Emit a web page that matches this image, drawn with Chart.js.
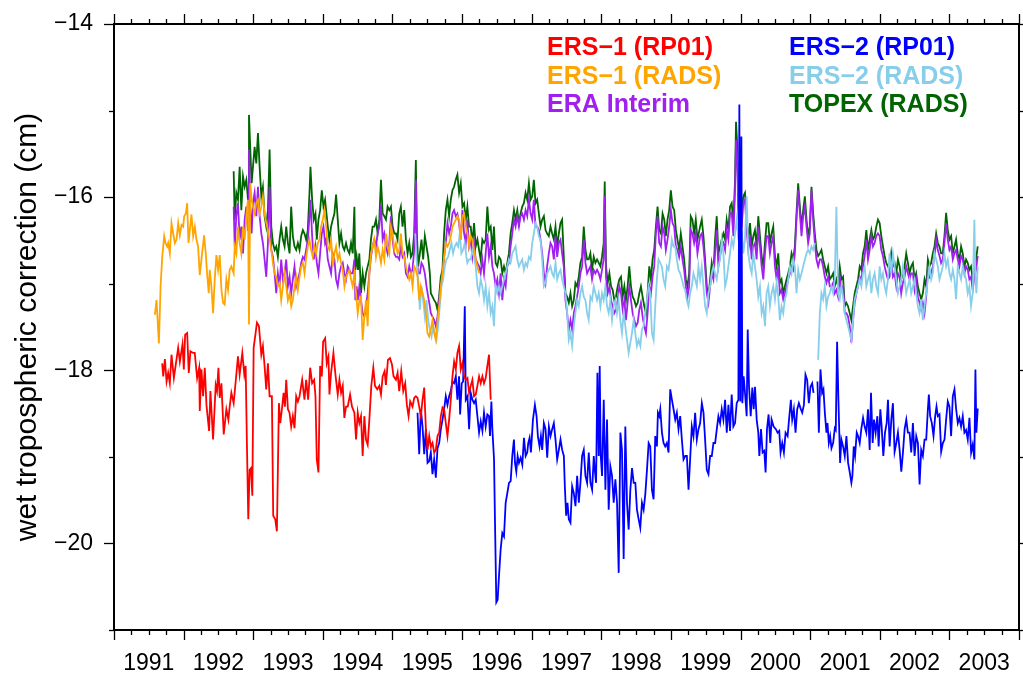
<!DOCTYPE html>
<html>
<head>
<meta charset="utf-8">
<script src="https://cdn.jsdelivr.net/npm/chart.js@4/dist/chart.umd.min.js"></script>
<style>
  html, body { margin: 0; padding: 0; background: #ffffff; }
  canvas { display: block; }
</style>
</head>
<body>
<canvas id="chart" width="1023" height="673"></canvas>
<script>
// Axis labelling
const yearLabels = [1991, 1992, 1993, 1994, 1995, 1996, 1997, 1998, 1999, 2000, 2001, 2002, 2003];
const yTickValues = [-20, -18, -16, -14];
const axisTitle = 'wet tropospheric correction (cm)';

// Series names (legend text) and colours
const seriesNames = ['ERS\u22121 (RP01)', 'ERS\u22122 (RP01)', 'ERS\u22121 (RADS)', 'ERS\u22122 (RADS)', 'ERA Interim', 'TOPEX (RADS)'];
const seriesColors = ['#ff0000', '#0000ff', '#ffa500', '#87ceeb', '#a020f0', '#006400'];

// [decimal year, cm]
const ers1Rp01 = [[1991.692,-17.92],[1991.707,-18.07],[1991.731,-17.87],[1991.755,-18.13],[1991.778,-18.03],[1991.802,-18.15],[1991.826,-17.82],[1991.860,-18.09],[1991.888,-17.93],[1991.922,-17.74],[1991.946,-17.90],[1991.984,-17.70],[1992.003,-17.99],[1992.022,-17.59],[1992.051,-17.57],[1992.074,-18.03],[1992.098,-17.78],[1992.137,-17.80],[1992.160,-17.80],[1992.194,-18.09],[1992.223,-17.97],[1992.232,-18.47],[1992.256,-17.99],[1992.280,-18.30],[1992.304,-17.97],[1992.328,-18.40],[1992.366,-18.70],[1992.385,-18.24],[1992.423,-18.80],[1992.461,-18.17],[1992.480,-18.24],[1992.500,-17.97],[1992.519,-18.32],[1992.543,-18.15],[1992.576,-18.74],[1992.614,-18.45],[1992.643,-18.57],[1992.662,-18.42],[1992.686,-18.26],[1992.719,-18.38],[1992.748,-18.13],[1992.781,-17.84],[1992.805,-18.05],[1992.843,-17.80],[1992.872,-18.05],[1992.891,-17.95],[1992.910,-18.88],[1992.929,-19.72],[1992.948,-19.15],[1992.968,-19.13],[1992.987,-19.45],[1993.006,-17.74],[1993.034,-17.57],[1993.053,-17.45],[1993.082,-17.49],[1993.116,-17.82],[1993.139,-17.72],[1993.163,-17.95],[1993.187,-18.22],[1993.211,-17.92],[1993.235,-18.30],[1993.268,-18.30],[1993.287,-19.68],[1993.316,-19.72],[1993.340,-19.86],[1993.369,-18.38],[1993.388,-18.61],[1993.412,-18.45],[1993.436,-18.26],[1993.455,-18.42],[1993.474,-18.11],[1993.498,-18.45],[1993.521,-18.49],[1993.545,-18.65],[1993.569,-18.53],[1993.593,-18.67],[1993.617,-18.30],[1993.641,-18.36],[1993.665,-18.30],[1993.703,-18.11],[1993.736,-18.34],[1993.760,-18.11],[1993.789,-18.34],[1993.818,-17.97],[1993.846,-18.15],[1993.875,-18.11],[1993.894,-18.30],[1993.913,-19.03],[1993.937,-19.18],[1993.961,-17.95],[1993.985,-18.07],[1994.004,-17.67],[1994.033,-17.63],[1994.056,-17.92],[1994.080,-17.84],[1994.095,-18.28],[1994.118,-18.03],[1994.152,-17.80],[1994.181,-18.05],[1994.214,-18.28],[1994.238,-18.11],[1994.262,-18.26],[1994.286,-18.18],[1994.309,-18.55],[1994.333,-18.42],[1994.357,-18.42],[1994.391,-18.28],[1994.419,-18.42],[1994.453,-18.49],[1994.477,-18.80],[1994.501,-18.49],[1994.524,-18.61],[1994.548,-18.53],[1994.572,-18.99],[1994.596,-18.53],[1994.620,-18.80],[1994.644,-18.86],[1994.668,-18.57],[1994.696,-18.18],[1994.725,-17.97],[1994.749,-18.18],[1994.782,-18.22],[1994.811,-18.18],[1994.835,-18.28],[1994.859,-18.07],[1994.887,-18.01],[1994.906,-18.17],[1994.935,-17.88],[1994.964,-17.86],[1994.992,-17.93],[1995.016,-18.07],[1995.050,-18.11],[1995.074,-18.03],[1995.097,-18.24],[1995.126,-18.01],[1995.155,-18.24],[1995.183,-18.15],[1995.207,-18.40],[1995.231,-18.53],[1995.255,-18.36],[1995.288,-18.42],[1995.312,-18.32],[1995.336,-18.30],[1995.360,-18.32],[1995.384,-18.42],[1995.408,-18.53],[1995.432,-18.34],[1995.456,-18.20],[1995.480,-18.68],[1995.504,-18.92],[1995.528,-18.76],[1995.551,-18.88],[1995.575,-18.84],[1995.599,-18.95],[1995.623,-18.92],[1995.647,-18.76],[1995.671,-18.72],[1995.695,-18.53],[1995.719,-18.43],[1995.742,-18.45],[1995.766,-18.61],[1995.790,-18.76],[1995.814,-18.57],[1995.838,-18.34],[1995.862,-18.07],[1995.886,-17.90],[1995.910,-17.99],[1995.933,-17.80],[1995.957,-17.72],[1995.981,-17.99],[1996.005,-17.92],[1996.029,-18.07],[1996.053,-18.11],[1996.077,-18.09],[1996.101,-18.26],[1996.124,-18.18],[1996.148,-18.11],[1996.172,-18.30],[1996.196,-18.28],[1996.220,-18.18],[1996.244,-18.07],[1996.268,-18.15],[1996.292,-18.07],[1996.315,-18.15],[1996.339,-18.09],[1996.363,-17.95],[1996.387,-17.82],[1996.411,-18.34]];

const ers2Rp01 = [[1995.360,-18.49],[1995.384,-18.97],[1995.408,-18.45],[1995.432,-18.65],[1995.456,-18.97],[1995.480,-18.68],[1995.504,-19.07],[1995.528,-19.05],[1995.551,-18.95],[1995.575,-19.20],[1995.599,-19.03],[1995.623,-19.24],[1995.647,-18.90],[1995.671,-18.84],[1995.695,-18.68],[1995.719,-18.57],[1995.742,-18.45],[1995.766,-18.30],[1995.790,-18.40],[1995.814,-18.30],[1995.838,-18.24],[1995.862,-18.13],[1995.886,-18.15],[1995.910,-18.07],[1995.933,-18.34],[1995.957,-18.07],[1995.972,-18.51],[1995.995,-18.15],[1996.015,-18.13],[1996.039,-17.26],[1996.053,-18.34],[1996.077,-18.30],[1996.101,-18.68],[1996.124,-18.26],[1996.148,-18.34],[1996.172,-18.38],[1996.196,-18.34],[1996.220,-18.53],[1996.244,-18.72],[1996.268,-18.59],[1996.292,-18.70],[1996.315,-18.49],[1996.339,-18.65],[1996.363,-18.51],[1996.387,-18.53],[1996.401,-18.76],[1996.421,-18.36],[1996.435,-18.68],[1996.459,-19.03],[1996.473,-19.76],[1996.492,-20.68],[1996.511,-20.65],[1996.530,-20.38],[1996.554,-20.07],[1996.578,-19.88],[1996.602,-19.92],[1996.626,-19.53],[1996.650,-19.42],[1996.674,-19.30],[1996.698,-19.28],[1996.721,-18.99],[1996.745,-18.80],[1996.760,-19.07],[1996.779,-19.17],[1996.798,-18.99],[1996.817,-19.07],[1996.841,-19.01],[1996.865,-19.09],[1996.889,-18.78],[1996.913,-18.99],[1996.936,-18.95],[1996.951,-18.84],[1996.970,-18.78],[1996.989,-18.95],[1997.018,-18.57],[1997.046,-18.40],[1997.070,-18.53],[1997.089,-18.76],[1997.113,-18.88],[1997.132,-18.76],[1997.151,-18.92],[1997.175,-18.61],[1997.199,-18.68],[1997.223,-19.01],[1997.247,-18.65],[1997.271,-18.76],[1997.294,-18.68],[1997.318,-18.61],[1997.342,-18.80],[1997.366,-19.03],[1997.390,-18.92],[1997.414,-18.80],[1997.438,-18.92],[1997.462,-18.99],[1997.476,-19.34],[1997.495,-19.68],[1997.514,-19.53],[1997.533,-19.72],[1997.557,-19.76],[1997.581,-19.34],[1997.605,-19.42],[1997.629,-19.57],[1997.653,-19.22],[1997.677,-19.53],[1997.700,-19.30],[1997.724,-18.99],[1997.748,-18.92],[1997.772,-19.22],[1997.796,-19.30],[1997.820,-18.95],[1997.844,-19.30],[1997.868,-19.38],[1997.892,-18.99],[1997.906,-19.15],[1997.925,-19.30],[1997.944,-18.03],[1997.963,-18.99],[1997.977,-17.95],[1997.992,-18.99],[1998.011,-19.22],[1998.035,-18.34],[1998.059,-19.38],[1998.082,-18.57],[1998.106,-19.61],[1998.130,-19.11],[1998.154,-19.22],[1998.178,-19.53],[1998.202,-19.26],[1998.226,-19.53],[1998.250,-20.34],[1998.274,-18.72],[1998.297,-18.92],[1998.321,-20.18],[1998.345,-18.65],[1998.369,-19.53],[1998.393,-19.84],[1998.417,-19.38],[1998.441,-19.13],[1998.465,-19.30],[1998.489,-19.30],[1998.512,-19.61],[1998.536,-19.72],[1998.560,-19.82],[1998.584,-19.53],[1998.608,-19.61],[1998.632,-19.43],[1998.656,-19.15],[1998.680,-18.84],[1998.703,-18.88],[1998.727,-19.38],[1998.751,-19.49],[1998.775,-18.76],[1998.799,-18.88],[1998.813,-18.49],[1998.832,-18.53],[1998.847,-18.45],[1998.871,-18.72],[1998.894,-18.84],[1998.918,-18.88],[1998.942,-18.84],[1998.966,-18.95],[1998.990,-18.22],[1999.014,-18.34],[1999.038,-18.45],[1999.062,-18.57],[1999.085,-18.49],[1999.109,-18.68],[1999.133,-18.53],[1999.157,-18.80],[1999.181,-19.03],[1999.205,-18.99],[1999.229,-18.99],[1999.253,-19.38],[1999.276,-19.03],[1999.300,-18.65],[1999.324,-18.76],[1999.348,-18.49],[1999.372,-18.80],[1999.396,-18.68],[1999.420,-18.61],[1999.444,-18.38],[1999.468,-18.49],[1999.491,-18.80],[1999.515,-19.15],[1999.539,-19.20],[1999.563,-18.99],[1999.587,-18.99],[1999.611,-18.84],[1999.635,-18.84],[1999.659,-18.68],[1999.682,-18.53],[1999.706,-18.61],[1999.730,-18.45],[1999.754,-18.57],[1999.778,-18.34],[1999.802,-18.72],[1999.826,-18.40],[1999.849,-18.70],[1999.873,-18.28],[1999.897,-18.65],[1999.921,-18.61],[1999.945,-18.38],[1999.969,-18.34],[1999.983,-14.93],[1999.997,-18.36],[2000.012,-15.30],[2000.026,-18.38],[2000.045,-18.07],[2000.064,-18.26],[2000.088,-18.53],[2000.103,-17.53],[2000.122,-18.19],[2000.146,-18.53],[2000.169,-18.20],[2000.189,-18.45],[2000.208,-18.19],[2000.232,-18.57],[2000.255,-18.72],[2000.270,-18.99],[2000.294,-18.68],[2000.317,-18.95],[2000.341,-18.93],[2000.360,-19.18],[2000.380,-18.68],[2000.403,-18.51],[2000.427,-18.84],[2000.446,-18.57],[2000.475,-18.65],[2000.508,-18.68],[2000.532,-18.72],[2000.556,-18.70],[2000.575,-18.95],[2000.599,-18.84],[2000.623,-18.95],[2000.647,-18.72],[2000.676,-18.76],[2000.699,-18.55],[2000.723,-18.34],[2000.742,-18.57],[2000.766,-18.45],[2000.790,-18.72],[2000.814,-18.45],[2000.838,-18.38],[2000.862,-18.44],[2000.886,-18.49],[2000.910,-18.40],[2000.933,-18.05],[2000.957,-18.11],[2000.981,-18.38],[2001.005,-18.19],[2001.029,-18.15],[2001.048,-18.26],[2001.075,null],[2001.105,-18.13],[2001.125,-18.72],[2001.148,-17.99],[2001.172,-18.26],[2001.191,-18.22],[2001.211,-18.49],[2001.234,-18.72],[2001.249,-18.61],[2001.268,-18.84],[2001.287,-18.76],[2001.306,-18.90],[2001.330,-18.84],[2001.354,-18.67],[2001.368,-18.69],[2001.387,-17.67],[2001.406,-18.34],[2001.430,-19.07],[2001.449,-18.80],[2001.473,-18.88],[2001.497,-18.99],[2001.521,-18.76],[2001.545,-19.07],[2001.569,-19.18],[2001.592,-19.30],[2001.607,-19.22],[2001.626,-18.88],[2001.645,-18.99],[2001.669,-18.72],[2001.688,-18.76],[2001.712,-18.84],[2001.736,-18.67],[2001.760,-18.55],[2001.783,-18.65],[2001.807,-18.72],[2001.831,-18.45],[2001.855,-18.92],[2001.874,-18.26],[2001.898,-18.84],[2001.917,-18.57],[2001.941,-18.72],[2001.965,-18.53],[2001.984,-18.88],[2002.008,-18.45],[2002.027,-18.65],[2002.051,-18.99],[2002.075,-18.72],[2002.099,-18.61],[2002.118,-18.34],[2002.142,-18.88],[2002.166,-18.57],[2002.189,-18.38],[2002.213,-18.94],[2002.237,-18.84],[2002.261,-18.72],[2002.285,-18.92],[2002.309,-19.17],[2002.333,-18.95],[2002.357,-18.68],[2002.381,-18.57],[2002.404,-18.72],[2002.428,-18.72],[2002.452,-18.95],[2002.476,-18.61],[2002.500,-18.99],[2002.524,-18.76],[2002.548,-18.84],[2002.572,-19.32],[2002.595,-18.92],[2002.619,-18.99],[2002.643,-18.80],[2002.667,-18.80],[2002.691,-18.45],[2002.705,-18.28],[2002.724,-18.53],[2002.748,-18.61],[2002.772,-18.76],[2002.796,-18.53],[2002.815,-18.42],[2002.834,-18.53],[2002.858,-18.51],[2002.882,-18.94],[2002.906,-18.84],[2002.930,-18.80],[2002.953,-18.57],[2002.977,-18.36],[2003.001,-18.42],[2003.025,-18.76],[2003.049,-18.30],[2003.073,-18.22],[2003.097,-18.45],[2003.121,-18.61],[2003.144,-18.55],[2003.168,-18.65],[2003.192,-18.53],[2003.216,-18.72],[2003.240,-18.69],[2003.264,-18.80],[2003.288,-18.55],[2003.312,-18.95],[2003.335,-18.86],[2003.359,-19.03],[2003.374,-17.99],[2003.388,-18.72],[2003.407,-18.44]];

const ers1Rads = [[1991.587,-17.36],[1991.611,-17.19],[1991.645,-17.69],[1991.669,-17.03],[1991.693,-16.69],[1991.721,-16.45],[1991.740,-16.53],[1991.764,-16.57],[1991.778,-16.53],[1991.802,-16.65],[1991.826,-16.30],[1991.850,-16.42],[1991.874,-16.53],[1991.898,-16.49],[1991.922,-16.30],[1991.946,-16.44],[1991.970,-16.32],[1991.993,-16.34],[1992.008,-16.22],[1992.032,-16.19],[1992.051,-16.07],[1992.070,-16.53],[1992.089,-16.38],[1992.113,-16.20],[1992.137,-16.45],[1992.161,-16.34],[1992.184,-16.49],[1992.208,-16.57],[1992.232,-16.90],[1992.294,-16.44],[1992.318,-16.65],[1992.337,-16.88],[1992.361,-17.11],[1992.375,-16.84],[1992.399,-17.03],[1992.423,-17.34],[1992.447,-16.95],[1992.471,-16.67],[1992.495,-16.84],[1992.519,-16.67],[1992.543,-17.07],[1992.567,-17.22],[1992.590,-17.24],[1992.614,-16.95],[1992.638,-17.07],[1992.662,-16.84],[1992.686,-16.80],[1992.719,-16.88],[1992.734,-16.57],[1992.757,-16.65],[1992.781,-16.34],[1992.805,-16.53],[1992.829,-16.65],[1992.853,-16.34],[1992.877,-16.49],[1992.901,-16.22],[1992.924,-16.03],[1992.939,-17.47],[1992.958,-15.84],[1992.977,-16.03],[1992.996,-16.11],[1993.020,-16.19],[1993.044,-16.07],[1993.068,-16.03],[1993.092,-16.19],[1993.116,-16.11],[1993.139,-15.99],[1993.163,-16.19],[1993.187,-16.30],[1993.211,-16.38],[1993.235,-16.49],[1993.259,-16.61],[1993.283,-16.76],[1993.307,-16.88],[1993.331,-16.92],[1993.354,-17.03],[1993.378,-16.99],[1993.402,-17.19],[1993.426,-17.03],[1993.450,-16.88],[1993.474,-17.03],[1993.498,-17.19],[1993.522,-17.11],[1993.546,-17.26],[1993.569,-17.19],[1993.593,-17.03],[1993.617,-16.92],[1993.641,-17.07],[1993.665,-16.92],[1993.689,-16.80],[1993.713,-16.76],[1993.737,-16.88],[1993.761,-16.69],[1993.784,-16.57],[1993.808,-16.49],[1993.832,-16.61],[1993.856,-16.69],[1993.880,-16.57],[1993.904,-16.65],[1993.928,-16.53],[1993.952,-16.49],[1993.975,-16.34],[1993.999,-16.26],[1994.023,-16.15],[1994.047,-16.34],[1994.071,-16.57],[1994.095,-16.61],[1994.119,-16.49],[1994.143,-16.80],[1994.166,-16.65],[1994.190,-16.57],[1994.214,-16.72],[1994.238,-16.65],[1994.262,-16.76],[1994.286,-16.84],[1994.310,-17.03],[1994.334,-16.92],[1994.357,-16.88],[1994.381,-16.84],[1994.405,-16.95],[1994.429,-17.03],[1994.453,-16.88],[1994.477,-17.11],[1994.501,-17.34],[1994.525,-17.19],[1994.548,-17.15],[1994.572,-17.65],[1994.596,-17.38],[1994.620,-17.19],[1994.644,-17.49],[1994.668,-16.88],[1994.692,-16.65],[1994.716,-16.57],[1994.740,-16.49],[1994.763,-16.69],[1994.787,-16.57],[1994.811,-16.65],[1994.835,-16.76],[1994.859,-16.61],[1994.883,-16.72],[1994.907,-16.42],[1994.931,-16.57],[1994.954,-16.65],[1994.978,-16.34],[1995.002,-16.42],[1995.026,-16.61],[1995.050,-16.53],[1995.074,-16.65],[1995.098,-16.61],[1995.121,-16.42],[1995.145,-16.65],[1995.169,-16.69],[1995.193,-16.80],[1995.217,-16.88],[1995.241,-16.95],[1995.265,-16.88],[1995.289,-17.03],[1995.312,-16.80],[1995.336,-16.84],[1995.360,-16.92],[1995.384,-17.19],[1995.408,-17.03],[1995.432,-17.11],[1995.456,-17.19],[1995.480,-17.34],[1995.503,-17.57],[1995.527,-17.61],[1995.551,-17.53],[1995.575,-17.42],[1995.599,-17.57],[1995.623,-17.65],[1995.647,-17.42],[1995.671,-17.26],[1995.695,-17.03],[1995.718,-16.88],[1995.742,-16.69],[1995.766,-16.53],[1995.790,-16.57],[1995.814,-16.53],[1995.838,-16.45],[1995.862,-16.34],[1995.886,-16.30],[1995.910,-16.26],[1995.933,-16.22],[1995.957,-16.26],[1995.981,-16.49],[1996.005,-16.22],[1996.029,-16.19],[1996.053,-16.34],[1996.077,-16.42],[1996.100,-16.57],[1996.124,-16.45],[1996.148,-16.49],[1996.172,-16.61],[1996.196,-16.72],[1996.220,-16.80],[1996.244,-16.88]];

const ers2Rads = [[1995.327,-16.42],[1995.346,-16.72],[1995.370,-16.95],[1995.393,-17.30],[1995.417,-17.03],[1995.441,-17.19],[1995.465,-17.38],[1995.489,-17.19],[1995.513,-17.42],[1995.537,-17.53],[1995.561,-17.61],[1995.584,-17.49],[1995.608,-17.57],[1995.632,-17.65],[1995.656,-17.49],[1995.680,-17.26],[1995.704,-17.03],[1995.728,-16.95],[1995.752,-16.80],[1995.775,-16.72],[1995.799,-16.69],[1995.823,-16.61],[1995.847,-16.53],[1995.871,-16.65],[1995.895,-16.57],[1995.919,-16.53],[1995.943,-16.57],[1995.966,-16.42],[1995.990,-16.65],[1996.014,-16.61],[1996.038,-16.53],[1996.062,-16.69],[1996.076,-16.76],[1996.100,-16.72],[1996.124,-16.72],[1996.148,-16.61],[1996.172,-16.69],[1996.196,-16.80],[1996.220,-17.03],[1996.244,-17.11],[1996.267,-16.95],[1996.291,-17.03],[1996.315,-17.19],[1996.339,-17.03],[1996.363,-17.26],[1996.387,-17.11],[1996.411,-17.34],[1996.435,-17.26],[1996.458,-17.49],[1996.482,-17.03],[1996.506,-17.11],[1996.530,-17.03],[1996.554,-17.11],[1996.578,-17.03],[1996.602,-16.95],[1996.626,-16.88],[1996.649,-16.80],[1996.673,-16.72],[1996.697,-16.76],[1996.721,-16.65],[1996.745,-16.61],[1996.769,-16.57],[1996.793,-16.72],[1996.817,-16.80],[1996.840,-16.76],[1996.864,-16.72],[1996.888,-16.84],[1996.912,-16.76],[1996.936,-16.80],[1996.960,-16.69],[1996.984,-16.72],[1997.008,-16.53],[1997.031,-16.42],[1997.055,-16.30],[1997.079,-16.34],[1997.103,-16.45],[1997.127,-16.49],[1997.151,-16.72],[1997.175,-17.03],[1997.199,-16.99],[1997.222,-16.88],[1997.246,-16.84],[1997.270,-16.80],[1997.294,-16.88],[1997.318,-16.92],[1997.342,-16.76],[1997.366,-16.95],[1997.390,-16.88],[1997.414,-16.84],[1997.437,-16.95],[1997.461,-17.03],[1997.485,-17.11],[1997.509,-17.34],[1997.533,-17.65],[1997.557,-17.57],[1997.581,-17.72],[1997.605,-17.49],[1997.628,-17.34],[1997.652,-17.19],[1997.676,-17.26],[1997.700,-17.11],[1997.724,-17.03],[1997.748,-17.15],[1997.772,-17.19],[1997.796,-17.34],[1997.819,-17.42],[1997.843,-17.15],[1997.867,-17.19],[1997.891,-17.03],[1997.915,-17.11],[1997.939,-17.19],[1997.963,-17.11],[1997.987,-17.26],[1998.010,-17.11],[1998.034,-17.19],[1998.058,-17.03],[1998.082,-17.26],[1998.106,-17.34],[1998.130,-17.19],[1998.154,-17.42],[1998.178,-17.26],[1998.201,-17.19],[1998.225,-17.34],[1998.249,-17.19],[1998.273,-17.42],[1998.297,-17.57],[1998.321,-17.34],[1998.345,-17.49],[1998.369,-17.65],[1998.393,-17.80],[1998.416,-17.69],[1998.440,-17.57],[1998.464,-17.42],[1998.488,-17.57],[1998.512,-17.72],[1998.536,-17.65],[1998.560,-17.72],[1998.584,-17.53],[1998.607,-17.49],[1998.631,-17.34],[1998.655,-17.19],[1998.679,-17.03],[1998.703,-17.11],[1998.727,-17.57],[1998.751,-17.65],[1998.775,-17.26],[1998.798,-16.95],[1998.822,-16.72],[1998.846,-16.76],[1998.870,-16.80],[1998.894,-16.95],[1998.918,-17.03],[1998.942,-16.80],[1998.966,-16.84],[1998.989,-16.69],[1999.013,-16.49],[1999.037,-16.57],[1999.061,-16.57],[1999.085,-16.72],[1999.109,-16.84],[1999.133,-16.88],[1999.157,-16.95],[1999.181,-17.03],[1999.204,-17.07],[1999.228,-17.19],[1999.252,-17.26],[1999.276,-17.11],[1999.300,-17.03],[1999.324,-16.88],[1999.348,-16.95],[1999.372,-17.03],[1999.395,-16.80],[1999.419,-16.95],[1999.443,-16.80],[1999.467,-17.03],[1999.491,-17.26],[1999.515,-17.34],[1999.539,-17.11],[1999.563,-17.03],[1999.586,-16.88],[1999.610,-16.80],[1999.634,-16.88],[1999.658,-16.95],[1999.682,-16.80],[1999.706,-16.72],[1999.730,-16.49],[1999.754,-16.65],[1999.778,-17.03],[1999.801,-16.95],[1999.825,-16.80],[1999.849,-16.65],[1999.873,-16.49],[1999.897,-16.57],[1999.921,-16.42],[1999.945,-16.26],[1999.969,-16.49],[1999.992,-16.53],[2000.016,-16.38],[2000.040,-16.65],[2000.064,-16.49],[2000.088,-15.99],[2000.112,-16.65],[2000.136,-16.80],[2000.160,-16.88],[2000.183,-16.65],[2000.207,-16.80],[2000.231,-16.95],[2000.255,-17.15],[2000.279,-17.03],[2000.303,-17.34],[2000.327,-17.26],[2000.351,-17.49],[2000.374,-17.11],[2000.398,-17.03],[2000.422,-17.26],[2000.446,-17.11],[2000.470,-17.03],[2000.494,-17.18],[2000.518,-16.99],[2000.542,-17.15],[2000.565,-17.42],[2000.589,-17.26],[2000.613,-17.34],[2000.637,-17.18],[2000.661,-17.11],[2000.685,-16.95],[2000.709,-16.80],[2000.733,-16.88],[2000.757,-16.72],[2000.780,-16.80],[2000.804,-17.11],[2000.828,-16.84],[2000.852,-16.95],[2000.876,-16.88],[2000.900,-16.80],[2000.924,-16.72],[2000.948,-16.65],[2000.971,-16.61],[2000.995,-16.65],[2001.019,-16.57],[2001.043,-16.61],[2001.067,-16.53],[2001.090,null],[2001.115,-17.88],[2001.139,-17.34],[2001.162,-17.11],[2001.186,-17.18],[2001.210,-17.03],[2001.234,-17.26],[2001.258,-17.15],[2001.282,-17.11],[2001.306,-17.03],[2001.330,-17.11],[2001.353,-16.95],[2001.377,-16.11],[2001.401,-17.11],[2001.425,-17.18],[2001.449,-17.03],[2001.473,-17.15],[2001.497,-17.34],[2001.520,-17.42],[2001.544,-17.49],[2001.568,-17.57],[2001.592,-17.65],[2001.616,-17.42],[2001.640,-17.18],[2001.664,-17.11],[2001.688,-17.03],[2001.712,-16.95],[2001.735,-17.03],[2001.759,-16.88],[2001.783,-16.80],[2001.807,-17.03],[2001.831,-16.95],[2001.855,-16.88],[2001.879,-17.11],[2001.902,-16.95],[2001.926,-16.88],[2001.950,-17.03],[2001.974,-17.11],[2001.998,-16.80],[2002.022,-16.95],[2002.046,-16.88],[2002.070,-17.03],[2002.093,-17.11],[2002.117,-16.95],[2002.141,-16.65],[2002.165,-16.88],[2002.189,-16.65],[2002.213,-16.80],[2002.237,-16.95],[2002.261,-17.11],[2002.285,-17.03],[2002.308,-16.95],[2002.332,-16.80],[2002.356,-16.95],[2002.380,-17.11],[2002.404,-17.03],[2002.428,-16.95],[2002.452,-17.11],[2002.476,-17.03],[2002.500,-16.95],[2002.523,-17.11],[2002.547,-17.26],[2002.571,-17.34],[2002.595,-17.18],[2002.619,-17.42],[2002.643,-17.26],[2002.667,-17.11],[2002.691,-16.95],[2002.714,-16.80],[2002.738,-16.95],[2002.762,-16.88],[2002.786,-16.65],[2002.810,-16.72],[2002.834,-16.80],[2002.858,-16.95],[2002.881,-16.88],[2002.905,-16.80],[2002.929,-16.65],[2002.953,-16.80],[2002.977,-16.72],[2003.001,-16.88],[2003.025,-16.95],[2003.049,-16.84],[2003.073,-16.95],[2003.096,-17.18],[2003.120,-16.80],[2003.144,-16.88],[2003.168,-16.95],[2003.192,-16.80],[2003.216,-16.88],[2003.240,-16.95],[2003.264,-17.11],[2003.287,-17.03],[2003.311,-17.26],[2003.335,-17.11],[2003.359,-16.26],[2003.373,-16.95],[2003.388,-17.11],[2003.407,-16.80]];

const eraInterim = [[1992.719,-16.11],[1992.734,-16.57],[1992.757,-16.22],[1992.781,-16.07],[1992.805,-16.49],[1992.829,-16.34],[1992.853,-16.65],[1992.877,-16.26],[1992.901,-16.11],[1992.925,-16.38],[1992.939,-15.45],[1992.958,-16.15],[1992.977,-16.42],[1992.996,-16.07],[1993.020,-15.95],[1993.044,-16.22],[1993.068,-15.88],[1993.092,-16.22],[1993.116,-16.42],[1993.139,-16.53],[1993.163,-16.72],[1993.187,-16.92],[1993.211,-16.53],[1993.235,-15.88],[1993.259,-16.61],[1993.283,-16.69],[1993.307,-16.88],[1993.331,-17.11],[1993.354,-16.88],[1993.378,-17.03],[1993.402,-16.72],[1993.426,-16.95],[1993.450,-16.88],[1993.474,-16.72],[1993.498,-17.03],[1993.522,-16.92],[1993.545,-17.11],[1993.569,-16.95],[1993.593,-16.80],[1993.617,-17.03],[1993.641,-16.95],[1993.665,-16.88],[1993.689,-16.76],[1993.713,-16.69],[1993.736,-16.72],[1993.760,-16.61],[1993.784,-16.49],[1993.808,-16.22],[1993.822,-16.03],[1993.846,-16.45],[1993.870,-16.72],[1993.894,-16.57],[1993.913,-16.76],[1993.937,-16.88],[1993.961,-16.65],[1993.985,-16.42],[1994.009,-16.34],[1994.032,-16.53],[1994.047,-16.49],[1994.071,-16.72],[1994.094,-16.80],[1994.118,-16.88],[1994.142,-16.65],[1994.166,-16.72],[1994.190,-16.95],[1994.214,-17.03],[1994.238,-16.88],[1994.262,-16.80],[1994.286,-16.76],[1994.309,-16.88],[1994.333,-16.95],[1994.357,-16.80],[1994.381,-16.84],[1994.405,-16.88],[1994.429,-16.88],[1994.453,-16.72],[1994.467,-17.19],[1994.486,-17.03],[1994.505,-17.19],[1994.524,-17.03],[1994.548,-17.19],[1994.572,-17.34],[1994.596,-17.38],[1994.620,-17.26],[1994.644,-17.11],[1994.668,-16.88],[1994.691,-16.69],[1994.715,-16.57],[1994.739,-16.49],[1994.763,-16.57],[1994.787,-16.42],[1994.811,-16.34],[1994.835,-16.09],[1994.859,-16.49],[1994.882,-16.42],[1994.906,-16.57],[1994.930,-16.65],[1994.954,-16.53],[1994.978,-16.22],[1995.002,-16.49],[1995.026,-16.65],[1995.050,-16.69],[1995.073,-16.69],[1995.097,-16.72],[1995.121,-16.57],[1995.145,-16.69],[1995.169,-16.65],[1995.193,-16.88],[1995.217,-16.92],[1995.241,-16.80],[1995.265,-16.88],[1995.288,-16.84],[1995.312,-16.61],[1995.336,-15.80],[1995.351,-16.72],[1995.370,-16.88],[1995.394,-16.88],[1995.417,-16.76],[1995.441,-16.80],[1995.465,-16.88],[1995.489,-17.03],[1995.513,-17.15],[1995.537,-17.26],[1995.551,-17.34],[1995.575,-17.38],[1995.599,-17.42],[1995.623,-17.49],[1995.647,-17.38],[1995.670,-17.19],[1995.694,-17.03],[1995.718,-16.92],[1995.742,-16.69],[1995.766,-16.53],[1995.790,-16.30],[1995.814,-16.42],[1995.838,-16.34],[1995.862,-16.19],[1995.885,-16.15],[1995.909,-16.22],[1995.933,-16.19],[1995.957,-16.30],[1995.981,-16.49],[1996.005,-16.15],[1996.029,-16.42],[1996.053,-16.53],[1996.076,-16.26],[1996.100,-16.57],[1996.124,-16.49],[1996.148,-16.69],[1996.172,-16.53],[1996.196,-16.72],[1996.220,-16.76],[1996.244,-16.80],[1996.267,-16.88],[1996.291,-16.72],[1996.315,-16.88],[1996.339,-16.65],[1996.363,-16.42],[1996.387,-16.69],[1996.411,-16.57],[1996.435,-16.80],[1996.458,-16.88],[1996.482,-17.03],[1996.506,-16.95],[1996.530,-17.11],[1996.554,-16.88],[1996.578,-17.19],[1996.602,-16.95],[1996.626,-17.03],[1996.649,-16.80],[1996.673,-16.76],[1996.697,-16.57],[1996.721,-16.42],[1996.745,-16.26],[1996.769,-16.34],[1996.793,-16.22],[1996.817,-16.34],[1996.840,-16.22],[1996.864,-16.19],[1996.888,-16.26],[1996.912,-16.15],[1996.936,-16.22],[1996.960,-16.03],[1996.984,-16.19],[1997.008,-16.26],[1997.031,-16.03],[1997.055,-16.34],[1997.079,-16.34],[1997.103,-16.38],[1997.127,-16.49],[1997.151,-16.65],[1997.175,-16.88],[1997.199,-16.99],[1997.222,-16.80],[1997.246,-16.65],[1997.270,-16.53],[1997.294,-16.57],[1997.318,-16.72],[1997.342,-16.45],[1997.366,-16.69],[1997.390,-16.53],[1997.414,-16.49],[1997.437,-16.65],[1997.461,-16.80],[1997.485,-17.19],[1997.509,-17.34],[1997.533,-17.53],[1997.557,-17.42],[1997.581,-17.53],[1997.605,-17.34],[1997.628,-17.26],[1997.652,-17.15],[1997.676,-17.03],[1997.700,-16.88],[1997.724,-16.80],[1997.748,-16.49],[1997.772,-16.76],[1997.796,-16.88],[1997.819,-16.84],[1997.843,-16.80],[1997.867,-16.95],[1997.891,-16.84],[1997.915,-16.88],[1997.939,-16.84],[1997.963,-16.88],[1997.987,-16.95],[1998.010,-16.84],[1998.034,-16.72],[1998.049,-15.99],[1998.068,-16.95],[1998.092,-17.11],[1998.116,-17.03],[1998.140,-17.19],[1998.163,-17.26],[1998.187,-17.34],[1998.211,-17.30],[1998.235,-17.19],[1998.259,-17.03],[1998.283,-17.11],[1998.307,-17.30],[1998.331,-17.19],[1998.354,-17.42],[1998.378,-17.22],[1998.402,-17.03],[1998.426,-17.19],[1998.450,-17.34],[1998.474,-17.42],[1998.498,-17.49],[1998.522,-17.45],[1998.546,-17.30],[1998.569,-17.22],[1998.593,-17.38],[1998.617,-17.49],[1998.641,-17.57],[1998.665,-17.34],[1998.689,-17.03],[1998.713,-17.11],[1998.736,-16.92],[1998.760,-16.80],[1998.784,-16.42],[1998.808,-16.22],[1998.832,-16.53],[1998.856,-16.57],[1998.880,-16.34],[1998.904,-16.42],[1998.927,-16.61],[1998.951,-16.49],[1998.975,-16.34],[1998.999,-16.15],[1999.023,-16.30],[1999.047,-16.34],[1999.071,-16.57],[1999.094,-16.61],[1999.118,-16.69],[1999.142,-16.57],[1999.166,-16.72],[1999.190,-16.84],[1999.214,-17.03],[1999.238,-17.15],[1999.262,-17.03],[1999.285,-16.38],[1999.309,-16.42],[1999.333,-16.53],[1999.357,-16.42],[1999.381,-16.65],[1999.419,-16.45],[1999.443,-16.42],[1999.467,-16.57],[1999.491,-16.80],[1999.515,-17.11],[1999.539,-17.22],[1999.563,-17.03],[1999.586,-16.88],[1999.610,-16.95],[1999.634,-16.65],[1999.658,-16.38],[1999.682,-16.80],[1999.706,-16.68],[1999.730,-16.57],[1999.754,-16.53],[1999.778,-16.61],[1999.801,-16.38],[1999.825,-16.49],[1999.849,-16.18],[1999.873,-16.18],[1999.897,-16.45],[1999.921,-15.92],[1999.935,-15.34],[1999.954,-15.61],[1999.969,-16.26],[1999.992,-16.42],[2000.016,-16.34],[2000.040,-16.07],[2000.064,-16.03],[2000.088,-16.38],[2000.112,-16.61],[2000.136,-16.45],[2000.160,-16.72],[2000.183,-16.57],[2000.207,-16.53],[2000.231,-16.72],[2000.255,-16.34],[2000.279,-16.57],[2000.303,-16.80],[2000.327,-16.95],[2000.351,-16.65],[2000.374,-16.45],[2000.398,-16.45],[2000.422,-16.65],[2000.446,-16.53],[2000.470,-16.45],[2000.494,-16.80],[2000.518,-16.95],[2000.542,-16.80],[2000.565,-17.11],[2000.589,-17.07],[2000.613,-17.18],[2000.637,-17.11],[2000.661,-17.03],[2000.685,-16.95],[2000.709,-16.88],[2000.733,-16.80],[2000.757,-16.84],[2000.780,-16.65],[2000.804,-16.26],[2000.828,-15.92],[2000.852,-16.18],[2000.876,-16.45],[2000.900,-16.22],[2000.924,-16.11],[2000.948,-16.34],[2000.971,-16.53],[2000.995,-16.42],[2001.019,-15.92],[2001.043,-16.26],[2001.067,-16.53],[2001.091,-16.72],[2001.115,-16.80],[2001.139,-16.72],[2001.162,-16.72],[2001.186,-16.80],[2001.210,-16.92],[2001.234,-16.99],[2001.258,-16.92],[2001.282,-17.03],[2001.306,-17.03],[2001.330,-16.99],[2001.353,-17.11],[2001.377,-17.07],[2001.401,-17.15],[2001.425,-16.92],[2001.449,-17.07],[2001.473,-17.03],[2001.497,-17.34],[2001.520,-17.34],[2001.544,-17.38],[2001.568,-17.49],[2001.592,-17.68],[2001.616,-17.42],[2001.640,-17.22],[2001.664,-17.11],[2001.688,-17.03],[2001.712,-16.92],[2001.735,-16.95],[2001.759,-16.80],[2001.783,-16.68],[2001.807,-16.49],[2001.831,-16.72],[2001.855,-16.61],[2001.879,-16.45],[2001.902,-16.57],[2001.926,-16.53],[2001.950,-16.45],[2001.974,-16.42],[2001.998,-16.45],[2002.022,-16.61],[2002.046,-16.68],[2002.070,-16.80],[2002.093,-16.88],[2002.117,-16.95],[2002.141,-16.92],[2002.165,-16.72],[2002.189,-16.92],[2002.213,-16.88],[2002.237,-17.03],[2002.261,-16.88],[2002.285,-16.92],[2002.308,-17.11],[2002.332,-16.99],[2002.356,-16.92],[2002.380,-16.80],[2002.404,-16.88],[2002.428,-16.95],[2002.452,-16.88],[2002.476,-16.88],[2002.500,-17.07],[2002.523,-16.95],[2002.547,-17.15],[2002.571,-17.22],[2002.595,-17.30],[2002.619,-17.22],[2002.643,-17.34],[2002.667,-17.15],[2002.691,-16.84],[2002.714,-16.92],[2002.738,-16.88],[2002.762,-16.80],[2002.786,-16.68],[2002.810,-16.49],[2002.834,-16.61],[2002.858,-16.68],[2002.881,-16.76],[2002.905,-16.72],[2002.929,-16.53],[2002.953,-16.30],[2002.977,-16.49],[2003.001,-16.61],[2003.025,-16.57],[2003.049,-16.72],[2003.073,-16.65],[2003.096,-16.61],[2003.120,-16.72],[2003.144,-16.80],[2003.168,-16.68],[2003.192,-16.72],[2003.216,-16.88],[2003.240,-16.80],[2003.264,-16.84],[2003.287,-16.95],[2003.311,-16.92],[2003.335,-17.07],[2003.359,-16.92],[2003.383,-16.84],[2003.407,-16.68]];

const topexRads = [[1992.719,-15.70],[1992.734,-16.26],[1992.757,-15.95],[1992.781,-16.03],[1992.805,-15.65],[1992.829,-16.15],[1992.853,-15.76],[1992.877,-15.88],[1992.901,-15.80],[1992.925,-16.03],[1992.939,-15.05],[1992.958,-15.45],[1992.977,-15.84],[1992.996,-15.65],[1993.020,-15.42],[1993.044,-15.61],[1993.068,-15.26],[1993.092,-15.65],[1993.116,-15.99],[1993.139,-15.88],[1993.163,-16.22],[1993.187,-16.34],[1993.211,-16.15],[1993.235,-15.45],[1993.259,-16.34],[1993.283,-16.53],[1993.307,-16.61],[1993.331,-16.57],[1993.354,-16.69],[1993.378,-16.49],[1993.402,-16.34],[1993.426,-16.49],[1993.450,-16.57],[1993.474,-16.34],[1993.498,-16.53],[1993.522,-16.65],[1993.545,-16.11],[1993.569,-16.45],[1993.593,-16.57],[1993.617,-16.61],[1993.641,-16.53],[1993.665,-16.61],[1993.689,-16.45],[1993.713,-16.38],[1993.736,-16.42],[1993.760,-16.49],[1993.784,-16.38],[1993.808,-15.95],[1993.822,-15.65],[1993.846,-16.03],[1993.870,-16.26],[1993.894,-16.19],[1993.913,-16.49],[1993.937,-16.26],[1993.961,-16.15],[1993.985,-15.92],[1994.009,-16.11],[1994.032,-16.03],[1994.047,-16.15],[1994.071,-16.34],[1994.094,-16.49],[1994.118,-16.34],[1994.142,-16.26],[1994.166,-16.19],[1994.190,-15.97],[1994.214,-16.26],[1994.238,-16.53],[1994.262,-16.42],[1994.286,-16.57],[1994.309,-16.61],[1994.333,-16.53],[1994.357,-16.61],[1994.381,-16.65],[1994.405,-16.53],[1994.429,-16.65],[1994.453,-16.11],[1994.467,-16.84],[1994.486,-16.69],[1994.505,-16.84],[1994.524,-16.65],[1994.548,-17.11],[1994.572,-16.88],[1994.596,-17.03],[1994.620,-16.88],[1994.644,-16.80],[1994.668,-16.72],[1994.691,-16.49],[1994.715,-16.34],[1994.739,-16.34],[1994.763,-16.26],[1994.787,-16.42],[1994.811,-16.26],[1994.835,-15.80],[1994.859,-16.19],[1994.882,-16.22],[1994.906,-16.26],[1994.930,-16.11],[1994.954,-16.15],[1994.978,-16.11],[1995.002,-16.34],[1995.026,-16.42],[1995.050,-16.42],[1995.073,-16.49],[1995.097,-16.19],[1995.121,-16.11],[1995.145,-16.34],[1995.169,-16.15],[1995.193,-16.49],[1995.217,-16.65],[1995.241,-16.53],[1995.265,-16.69],[1995.288,-16.65],[1995.312,-16.42],[1995.336,-15.57],[1995.351,-16.42],[1995.370,-16.80],[1995.394,-16.65],[1995.417,-16.49],[1995.441,-16.72],[1995.465,-16.45],[1995.489,-16.57],[1995.513,-16.69],[1995.537,-16.88],[1995.551,-17.11],[1995.575,-17.15],[1995.599,-17.19],[1995.623,-17.22],[1995.647,-17.30],[1995.670,-17.15],[1995.694,-16.92],[1995.718,-16.84],[1995.742,-16.42],[1995.766,-16.15],[1995.790,-16.03],[1995.814,-16.22],[1995.838,-16.03],[1995.862,-15.92],[1995.885,-15.88],[1995.909,-15.80],[1995.933,-15.74],[1995.957,-15.95],[1995.981,-15.84],[1996.005,-16.11],[1996.029,-16.07],[1996.053,-16.26],[1996.076,-16.11],[1996.100,-16.34],[1996.124,-16.34],[1996.148,-16.53],[1996.172,-16.30],[1996.196,-16.57],[1996.220,-16.49],[1996.244,-16.61],[1996.267,-16.72],[1996.291,-16.49],[1996.315,-16.53],[1996.339,-16.49],[1996.363,-16.11],[1996.387,-16.38],[1996.411,-16.34],[1996.435,-16.61],[1996.458,-16.34],[1996.482,-16.76],[1996.506,-16.80],[1996.530,-16.69],[1996.554,-16.72],[1996.578,-16.88],[1996.602,-16.80],[1996.626,-16.88],[1996.649,-16.76],[1996.673,-16.65],[1996.697,-16.42],[1996.721,-16.30],[1996.745,-16.15],[1996.769,-16.26],[1996.793,-16.15],[1996.817,-16.30],[1996.840,-16.19],[1996.864,-16.11],[1996.888,-16.07],[1996.912,-15.95],[1996.936,-16.03],[1996.960,-15.84],[1996.984,-16.03],[1997.008,-15.99],[1997.031,-15.80],[1997.055,-16.07],[1997.079,-16.03],[1997.103,-16.19],[1997.127,-16.34],[1997.151,-16.26],[1997.175,-16.22],[1997.199,-16.38],[1997.222,-16.42],[1997.246,-16.45],[1997.270,-16.34],[1997.294,-16.42],[1997.318,-16.49],[1997.342,-16.34],[1997.366,-16.57],[1997.390,-16.42],[1997.414,-16.30],[1997.437,-16.26],[1997.461,-16.69],[1997.485,-17.11],[1997.509,-17.15],[1997.533,-17.22],[1997.557,-17.11],[1997.581,-17.26],[1997.605,-17.19],[1997.628,-16.99],[1997.652,-17.03],[1997.676,-16.92],[1997.700,-16.76],[1997.724,-16.69],[1997.748,-16.34],[1997.772,-16.61],[1997.796,-16.72],[1997.819,-16.72],[1997.843,-16.65],[1997.867,-16.84],[1997.891,-16.69],[1997.915,-16.76],[1997.939,-16.72],[1997.963,-16.76],[1997.987,-16.80],[1998.010,-16.69],[1998.034,-16.53],[1998.049,-15.82],[1998.068,-16.80],[1998.092,-16.99],[1998.116,-16.88],[1998.140,-17.03],[1998.163,-17.07],[1998.187,-17.19],[1998.211,-17.15],[1998.235,-17.03],[1998.259,-16.95],[1998.283,-16.92],[1998.307,-17.15],[1998.331,-17.03],[1998.354,-17.19],[1998.378,-17.03],[1998.402,-16.80],[1998.426,-17.03],[1998.450,-17.15],[1998.474,-17.19],[1998.498,-17.26],[1998.522,-17.22],[1998.546,-17.11],[1998.569,-17.03],[1998.593,-17.15],[1998.617,-17.26],[1998.641,-17.34],[1998.665,-17.11],[1998.689,-16.80],[1998.713,-16.95],[1998.736,-16.72],[1998.760,-16.61],[1998.784,-16.34],[1998.808,-16.11],[1998.832,-16.38],[1998.856,-16.42],[1998.880,-16.19],[1998.904,-16.26],[1998.927,-16.45],[1998.951,-16.26],[1998.975,-16.15],[1998.999,-15.92],[1999.023,-16.11],[1999.047,-16.15],[1999.071,-16.38],[1999.094,-16.49],[1999.118,-16.61],[1999.142,-16.42],[1999.166,-16.57],[1999.190,-16.72],[1999.214,-16.95],[1999.238,-17.03],[1999.262,-16.88],[1999.285,-16.22],[1999.309,-16.26],[1999.333,-16.42],[1999.357,-16.26],[1999.381,-16.49],[1999.419,-16.34],[1999.443,-16.26],[1999.467,-16.45],[1999.491,-16.72],[1999.515,-17.03],[1999.539,-17.15],[1999.563,-16.95],[1999.586,-16.76],[1999.610,-16.88],[1999.634,-16.49],[1999.658,-16.22],[1999.682,-16.65],[1999.706,-16.57],[1999.730,-16.49],[1999.754,-16.42],[1999.778,-16.49],[1999.801,-16.26],[1999.825,-16.38],[1999.849,-16.11],[1999.873,-16.07],[1999.897,-16.30],[1999.921,-15.80],[1999.935,-15.13],[1999.954,-15.42],[1999.969,-16.11],[1999.992,-16.26],[2000.016,-16.18],[2000.040,-15.99],[2000.064,-15.95],[2000.088,-16.26],[2000.112,-16.49],[2000.136,-16.30],[2000.160,-16.57],[2000.183,-16.45],[2000.207,-16.38],[2000.231,-16.57],[2000.255,-16.22],[2000.279,-16.45],[2000.303,-16.68],[2000.327,-16.80],[2000.351,-16.53],[2000.374,-16.30],[2000.398,-16.30],[2000.422,-16.53],[2000.446,-16.42],[2000.470,-16.34],[2000.494,-16.68],[2000.518,-16.80],[2000.542,-16.65],[2000.565,-16.99],[2000.589,-16.95],[2000.613,-17.11],[2000.637,-17.03],[2000.661,-16.95],[2000.685,-16.88],[2000.709,-16.80],[2000.733,-16.65],[2000.757,-16.72],[2000.780,-16.57],[2000.804,-16.18],[2000.828,-15.84],[2000.852,-16.11],[2000.876,-16.34],[2000.900,-16.15],[2000.924,-15.99],[2000.948,-16.26],[2000.971,-16.45],[2000.995,-16.34],[2001.019,-15.88],[2001.043,-16.18],[2001.067,-16.42],[2001.091,-16.61],[2001.115,-16.68],[2001.139,-16.65],[2001.162,-16.61],[2001.186,-16.72],[2001.210,-16.80],[2001.234,-16.88],[2001.258,-16.80],[2001.282,-16.95],[2001.306,-16.92],[2001.330,-16.88],[2001.353,-17.03],[2001.377,-16.95],[2001.401,-17.03],[2001.425,-16.80],[2001.449,-16.95],[2001.473,-16.92],[2001.497,-17.26],[2001.520,-17.22],[2001.544,-17.26],[2001.568,-17.34],[2001.592,-17.42],[2001.616,-17.26],[2001.640,-17.11],[2001.664,-17.03],[2001.688,-16.95],[2001.712,-16.80],[2001.735,-16.84],[2001.759,-16.65],[2001.783,-16.57],[2001.807,-16.38],[2001.831,-16.61],[2001.855,-16.49],[2001.879,-16.38],[2001.902,-16.49],[2001.926,-16.45],[2001.950,-16.34],[2001.974,-16.26],[2001.998,-16.30],[2002.022,-16.45],[2002.046,-16.57],[2002.070,-16.68],[2002.093,-16.76],[2002.117,-16.80],[2002.141,-16.84],[2002.165,-16.65],[2002.189,-16.80],[2002.213,-16.76],[2002.237,-16.88],[2002.261,-16.72],[2002.285,-16.80],[2002.308,-16.95],[2002.332,-16.88],[2002.356,-16.80],[2002.380,-16.65],[2002.404,-16.76],[2002.428,-16.88],[2002.452,-16.80],[2002.476,-16.76],[2002.500,-16.95],[2002.523,-16.88],[2002.547,-17.03],[2002.571,-17.11],[2002.595,-17.18],[2002.619,-17.11],[2002.643,-16.95],[2002.667,-17.03],[2002.691,-16.72],[2002.714,-16.80],[2002.738,-16.76],[2002.762,-16.65],[2002.786,-16.57],[2002.810,-16.42],[2002.834,-16.53],[2002.858,-16.57],[2002.881,-16.65],[2002.905,-16.65],[2002.929,-16.45],[2002.953,-16.18],[2002.977,-16.38],[2003.001,-16.49],[2003.025,-16.45],[2003.049,-16.65],[2003.073,-16.57],[2003.096,-16.49],[2003.120,-16.65],[2003.144,-16.72],[2003.168,-16.57],[2003.192,-16.65],[2003.216,-16.80],[2003.240,-16.72],[2003.264,-16.76],[2003.287,-16.84],[2003.311,-16.80],[2003.335,-16.95],[2003.359,-16.80],[2003.383,-16.72],[2003.407,-16.57]];

const X_MIN = 1991, X_MAX = 2004, Y_MIN = -21, Y_MAX = -14;
const FONT = '"Liberation Sans", Arial, Helvetica, sans-serif';

const toPoints = pairs => pairs.map(([x, y]) => ({ x, y }));

// Frame, tick marks on all four sides, and the coloured series names
const frameAndKey = {
  id: 'frameAndKey',
  afterDraw(chart) {
    const { ctx, chartArea: a, scales: { x, y } } = chart;
    ctx.save();
    ctx.strokeStyle = '#000';
    ctx.lineCap = 'butt';
    ctx.lineWidth = 1.3;
    const seg = (x1, y1, x2, y2) => { ctx.beginPath(); ctx.moveTo(x1, y1); ctx.lineTo(x2, y2); ctx.stroke(); };
    for (let q = X_MIN * 4; q <= X_MAX * 4; q++) {
      const v = q / 4;
      const px = Math.round(x.getPixelForValue(v)) + 0.5;
      const len = q % 4 === 0 ? 10 : 5;
      seg(px, a.bottom, px, a.bottom + len);
      seg(px, a.top, px, a.top - len);
    }
    for (let v = Y_MIN; v <= Y_MAX; v++) {
      const py = Math.round(y.getPixelForValue(v)) + 0.5;
      const len = v % 2 === 0 ? 10 : 5;
      seg(a.left - len, py, a.left, py);
      seg(a.right, py, a.right + len, py);
    }
    ctx.lineWidth = 2;
    ctx.strokeRect(a.left, a.top, a.right - a.left, a.bottom - a.top);

    ctx.font = 'bold 25px ' + FONT;
    ctx.textBaseline = 'alphabetic';
    ctx.textAlign = 'left';
    const cols = [a.left + 433, a.left + 675];
    const rows = [a.top + 31, a.top + 59.5, a.top + 88];
    seriesNames.forEach((name, i) => {
      ctx.fillStyle = seriesColors[i];
      ctx.fillText(name, cols[i % 2], rows[Math.floor(i / 2)]);
    });
    ctx.restore();
  }
};

const lineSet = (idx, pairs, order) => ({
  label: seriesNames[idx],
  data: toPoints(pairs),
  borderColor: seriesColors[idx],
  backgroundColor: seriesColors[idx],
  borderWidth: 1.8,
  pointRadius: 0,
  fill: false,
  tension: 0,
  spanGaps: false,
  order
});

new Chart(document.getElementById('chart'), {
  type: 'line',
  data: {
    datasets: [
      lineSet(0, ers1Rp01, 0),
      lineSet(1, ers2Rp01, 1),
      lineSet(2, ers1Rads, 2),
      lineSet(3, ers2Rads, 3),
      lineSet(4, eraInterim, 4),
      lineSet(5, topexRads, 5)
    ]
  },
  options: {
    responsive: false,
    animation: false,
    devicePixelRatio: 1,
    layout: { padding: { top: 24, right: 4, left: 0, bottom: 0 } },
    plugins: { legend: { display: false }, tooltip: { enabled: false }, title: { display: false } },
    scales: {
      x: {
        type: 'linear',
        min: X_MIN,
        max: X_MAX,
        grid: { display: false, drawTicks: false },
        border: { display: false },
        afterBuildTicks: s => { s.ticks = yearLabels.map(v => ({ value: v + 0.5 })); },
        afterFit: s => { s.height = 43; s.paddingLeft = 0; s.paddingRight = 0; },
        ticks: {
          autoSkip: false, maxRotation: 0, minRotation: 0, padding: 20, color: '#000',
          font: { family: FONT, size: 23 },
          callback: v => String(Math.floor(v))
        }
      },
      y: {
        type: 'linear',
        min: Y_MIN,
        max: Y_MAX,
        grid: { display: false, drawTicks: false },
        border: { display: false },
        afterBuildTicks: s => { s.ticks = yTickValues.map(v => ({ value: v })); },
        afterFit: s => { s.width = 114; s.paddingTop = 0; s.paddingBottom = 0; },
        ticks: {
          padding: 21, color: '#000',
          font: { family: FONT, size: 23 },
          callback: v => '\u2212' + Math.abs(v)
        },
        title: {
          display: true, text: axisTitle, color: '#000',
          font: { family: FONT, size: 30 },
          padding: { top: 10, bottom: 0 }
        }
      }
    }
  },
  plugins: [frameAndKey]
});
</script>
</body>
</html>
